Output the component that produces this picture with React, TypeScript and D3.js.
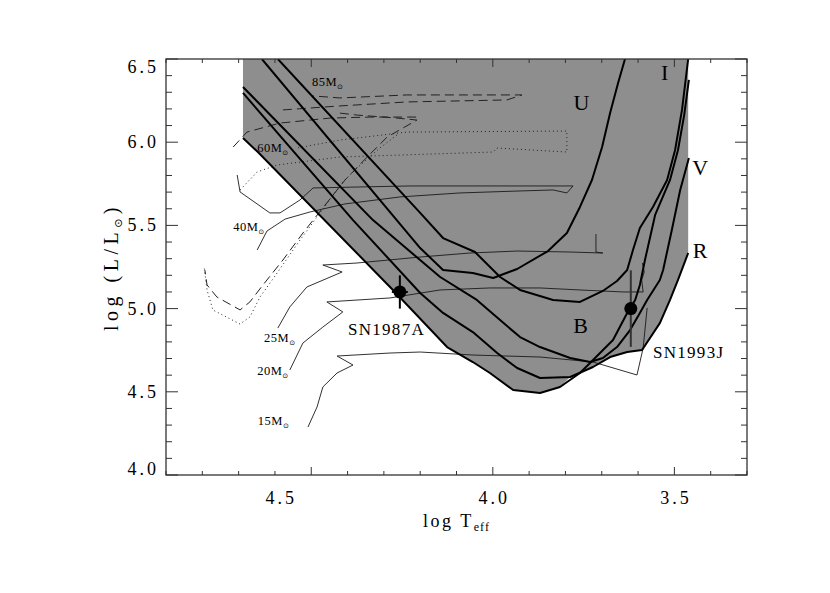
import React from 'react';
import * as d3 from 'd3';

type P = [number, number];

// Detection-limit curves (log Teff, log L)
const curveU: P[] = [[4.636,6.5],[4.2,5.364],[4.137,5.232],[4.055,5.214],[3.999,5.184],[3.933,5.238],[3.848,5.346],[3.796,5.454],[3.76,5.611],[3.727,5.773],[3.699,5.971],[3.677,6.175],[3.655,6.356],[3.636,6.5]];
const curveI: P[] = [[4.592,6.5],[4.2,5.575],[4.137,5.424],[4.049,5.34],[3.98,5.19],[3.925,5.112],[3.834,5.052],[3.76,5.04],[3.697,5.106],[3.658,5.166],[3.63,5.232],[3.614,5.352],[3.595,5.484],[3.559,5.611],[3.52,5.773],[3.498,5.953],[3.479,6.194],[3.462,6.5]];
const curveV: P[] = [[4.688,6.332],[4.33,5.532],[4.145,5.19],[4.044,5.052],[3.98,4.931],[3.925,4.829],[3.87,4.769],[3.787,4.703],[3.732,4.679],[3.697,4.703],[3.658,4.769],[3.622,4.871],[3.595,4.974],[3.575,5.052],[3.54,5.172],[3.531,5.232],[3.507,5.472],[3.484,5.713],[3.46,5.905]];
const curveR: P[] = [[4.688,6.296],[4.385,5.532],[4.2,5.094],[4.137,4.974],[4.055,4.859],[3.988,4.733],[3.933,4.643],[3.87,4.583],[3.787,4.589],[3.724,4.649],[3.677,4.709],[3.63,4.739],[3.589,4.751],[3.54,4.913],[3.512,5.052],[3.49,5.172],[3.462,5.334]];
const curveB: P[] = [[4.688,6.025],[4.647,5.941],[4.275,5.112],[4.126,4.769],[4.055,4.679],[4.008,4.613],[3.944,4.511],[3.87,4.493],[3.815,4.529],[3.76,4.613],[3.724,4.691],[3.669,4.811],[3.63,4.974],[3.608,5.052],[3.595,5.142],[3.581,5.292],[3.553,5.563],[3.512,5.773],[3.49,5.953],[3.473,6.163],[3.46,6.374]];

// Evolutionary tracks
const track15: P[] = [[4.509,4.288],[4.484,4.409],[4.468,4.529],[4.429,4.613],[4.385,4.661],[4.429,4.715],[4.283,4.733],[4.2,4.739],[4.055,4.721],[3.87,4.709],[3.724,4.679],[3.603,4.601],[3.586,4.763],[3.575,5.004]];
const track20: P[] = [[4.559,4.631],[4.523,4.793],[4.468,4.889],[4.413,4.98],[4.457,5.04],[4.283,5.064],[4.145,5.112],[4.008,5.124],[3.87,5.124],[3.76,5.112],[3.641,5.1],[3.586,5.1],[3.59,5.172],[3.583,5.22],[3.588,5.274]];
const track25: P[] = [[4.592,4.883],[4.559,5.01],[4.512,5.13],[4.415,5.22],[4.468,5.262],[4.374,5.274],[4.2,5.31],[4.063,5.334],[3.933,5.346],[3.787,5.34],[3.697,5.334],[3.716,5.34],[3.716,5.448]];
const track40: P[] = [[4.649,5.352],[4.622,5.466],[4.572,5.538],[4.503,5.581],[4.407,5.629],[4.256,5.671],[4.09,5.695],[3.925,5.707],[3.834,5.713],[3.796,5.695],[3.779,5.737],[3.98,5.737],[4.228,5.737],[4.366,5.731],[4.495,5.725],[4.531,5.653],[4.586,5.575],[4.614,5.575],[4.696,5.701],[4.704,5.803]];
const track60: P[][] = [
  [[4.696,5.713],[4.649,5.821],[4.594,5.863],[4.421,5.911],[3.999,5.941],[3.988,5.965],[3.796,5.941],[3.796,6.067],[4.236,6.061],[4.421,6.013],[4.539,5.965]],
  [[4.264,6.043],[4.311,5.965],[4.374,5.845],[4.413,5.761],[4.531,5.412],[4.594,5.214],[4.641,5.07],[4.669,4.95],[4.696,4.907],[4.771,4.992],[4.787,5.112],[4.795,5.25]],
];
const track85: P[][] = [
  [[4.715,5.971],[4.677,6.061],[4.586,6.115],[4.448,6.145],[4.338,6.151],[4.209,6.151]],
  [[4.578,6.194],[4.421,6.218],[4.236,6.242],[3.961,6.254],[3.92,6.284],[4.236,6.284],[4.421,6.266],[4.495,6.278]],
  [[4.421,6.175],[4.374,6.163],[4.264,6.145],[4.209,6.133],[4.291,6.031],[4.346,5.911],[4.407,5.773],[4.523,5.454],[4.578,5.292],[4.633,5.142],[4.669,5.04],[4.696,4.992],[4.76,5.07],[4.787,5.142],[4.793,5.232]],
];

const massLabels = [
  { m: '85', t: 4.498, l: 6.338 },
  { m: '60', t: 4.649, l: 5.941 },
  { m: '40', t: 4.715, l: 5.466 },
  { m: '25', t: 4.63, l: 4.799 },
  { m: '20', t: 4.649, l: 4.601 },
  { m: '15', t: 4.647, l: 4.3 },
];
const bandLabels = [
  { s: 'U', t: 3.756, l: 6.194 },
  { s: 'I', t: 3.527, l: 6.374 },
  { s: 'V', t: 3.429, l: 5.803 },
  { s: 'R', t: 3.429, l: 5.304 },
  { s: 'B', t: 3.758, l: 4.853 },
];
const supernovae = [
  { name: 'SN1987A', t: 4.256, l: 5.1, lHi: 5.2, lLo: 5.0, tErr: 0.022, labT: 4.399, labL: 4.841 },
  { name: 'SN1993J', t: 3.62, l: 5.0, lHi: 5.23, lLo: 4.77, tErr: 0, labT: 3.559, labL: 4.703 },
];
const xTickLabels = ['4.5', '4.0', '3.5'];
const xTickLabelAt = [4.587, 4.0, 3.5];
const yTickLabels = [4.0, 4.5, 5.0, 5.5, 6.0, 6.5];

export default function App() {
  const W = 830, H = 593;
  const left = 166, right = 747, top = 59, bottom = 475;
  const x = d3.scaleLinear().domain([4.9, 3.3]).range([left, right]);
  const y = d3.scaleLinear().domain([4.0, 6.5]).range([bottom, top]);
  const line = d3.line<P>().x(d => x(d[0])).y(d => y(d[1]));

  const gray: P[] = [
    [curveB[0][0], 6.5],
    ...curveB.filter(p => p[0] > 3.8),
    ...curveR.filter(p => p[0] < 3.8),
    [curveR[curveR.length - 1][0], 6.5],
  ];

  const yt = d3.range(40, 66).map(v => v / 10);
  const xt = d3.range(33, 50).map(v => v / 10);
  const isMajor = (v: number) => Math.abs(v * 2 - Math.round(v * 2)) < 1e-6;
  const serif = "'Liberation Serif', 'Times New Roman', serif";
  const frame = '#333';

  return (
    <svg width={W} height={H} style={{ position: 'absolute', left: 0, top: 0, background: '#fff' }} fontFamily={serif}>
      <defs>
        <clipPath id="plotclip">
          <rect x={left} y={top} width={right - left} height={bottom - top} />
        </clipPath>
      </defs>
      <g clipPath="url(#plotclip)">
        <path d={line(gray) + 'Z'} fill="#8e8e8e" stroke="none" />
        {[track15, track20, track25, track40].map((tr, i) => (
          <path key={'t' + i} d={line(tr) || ''} fill="none" stroke="#1a1a1a" strokeWidth={0.9} />
        ))}
        {track60.map((seg, i) => (
          <path key={'s60' + i} d={line(seg) || ''} fill="none" stroke="#222" strokeWidth={1} strokeDasharray="1 3" />
        ))}
        {track85.map((seg, i) => (
          <path key={'s85' + i} d={line(seg) || ''} fill="none" stroke="#222" strokeWidth={1} strokeDasharray="9 5" />
        ))}
        {[curveU, curveI, curveV, curveR, curveB].map((c, i) => (
          <path key={'c' + i} d={line(c) || ''} fill="none" stroke="#000" strokeWidth={2} strokeLinejoin="round" />
        ))}
        {supernovae.map(s => (
          <g key={s.name}>
            <line x1={x(s.t)} x2={x(s.t)} y1={y(s.lHi)} y2={y(s.lLo)} stroke={s.tErr ? '#000' : '#333'} strokeWidth={2} />
            {s.tErr > 0 && (
              <line x1={x(s.t - s.tErr)} x2={x(s.t + s.tErr)} y1={y(s.l)} y2={y(s.l)} stroke="#000" strokeWidth={2} />
            )}
            <circle cx={x(s.t)} cy={y(s.l)} r={6.5} fill="#000" />
          </g>
        ))}
      </g>

      {/* annotations */}
      {massLabels.map(m => (
        <text key={m.m} x={x(m.t)} y={y(m.l)} fontSize={12.5} letterSpacing={0.5} fill="#000">
          {m.m}M<tspan fontFamily="'DejaVu Sans'" fontSize={7} dy={3}>⊙</tspan>
        </text>
      ))}
      {bandLabels.map(b => (
        <text key={b.s} x={x(b.t)} y={y(b.l)} fontSize={22} textAnchor="middle" fill="#000">{b.s}</text>
      ))}
      {supernovae.map(s => (
        <text key={'l' + s.name} x={x(s.labT)} y={y(s.labL)} fontSize={17} letterSpacing={1.3} fill="#000">{s.name}</text>
      ))}

      {/* frame and ticks */}
      <rect x={left} y={top} width={right - left} height={bottom - top} fill="none" stroke={frame} strokeWidth={1.3} />
      {yt.map(v => {
        const len = isMajor(v) ? 12 : 6;
        return (
          <g key={'yt' + v}>
            <line x1={left} x2={left + len} y1={y(v)} y2={y(v)} stroke={frame} strokeWidth={1} />
            <line x1={right} x2={right - len} y1={y(v)} y2={y(v)} stroke={frame} strokeWidth={1} />
          </g>
        );
      })}
      {xt.map(v => {
        const len = isMajor(v) ? 8 : 4;
        return (
          <g key={'xt' + v}>
            <line x1={x(v)} x2={x(v)} y1={bottom} y2={bottom - len} stroke={frame} strokeWidth={1} />
            <line x1={x(v)} x2={x(v)} y1={top} y2={top + len} stroke={frame} strokeWidth={1} />
          </g>
        );
      })}
      {yTickLabels.map(v => {
        const cy = Math.min(Math.max(y(v), top + 7.5), bottom - 6.5);
        return (
          <text key={'yl' + v} x={159} y={cy + 6} fontSize={18} letterSpacing={3} textAnchor="end" fill="#000">{v.toFixed(1)}</text>
        );
      })}
      {xTickLabels.map((s, i) => (
        <text key={'xl' + s} x={x(xTickLabelAt[i]) + 1.5} y={504} fontSize={18} letterSpacing={3} textAnchor="middle" fill="#000">{s}</text>
      ))}
      <text x={(left + right) / 2} y={527} fontSize={18} letterSpacing={2.5} textAnchor="middle" fill="#000">
        log  T<tspan fontSize={12} dy={4} letterSpacing={1}>eff</tspan>
      </text>
      <text transform={`translate(118,${(top + bottom) / 2}) rotate(-90)`} fontSize={20} letterSpacing={4.5} textAnchor="middle" fill="#000">
        log (L/L<tspan fontFamily="'DejaVu Sans'" fontSize={11} dy={4}>⊙</tspan><tspan dy={-4}>)</tspan>
      </text>
    </svg>
  );
}
